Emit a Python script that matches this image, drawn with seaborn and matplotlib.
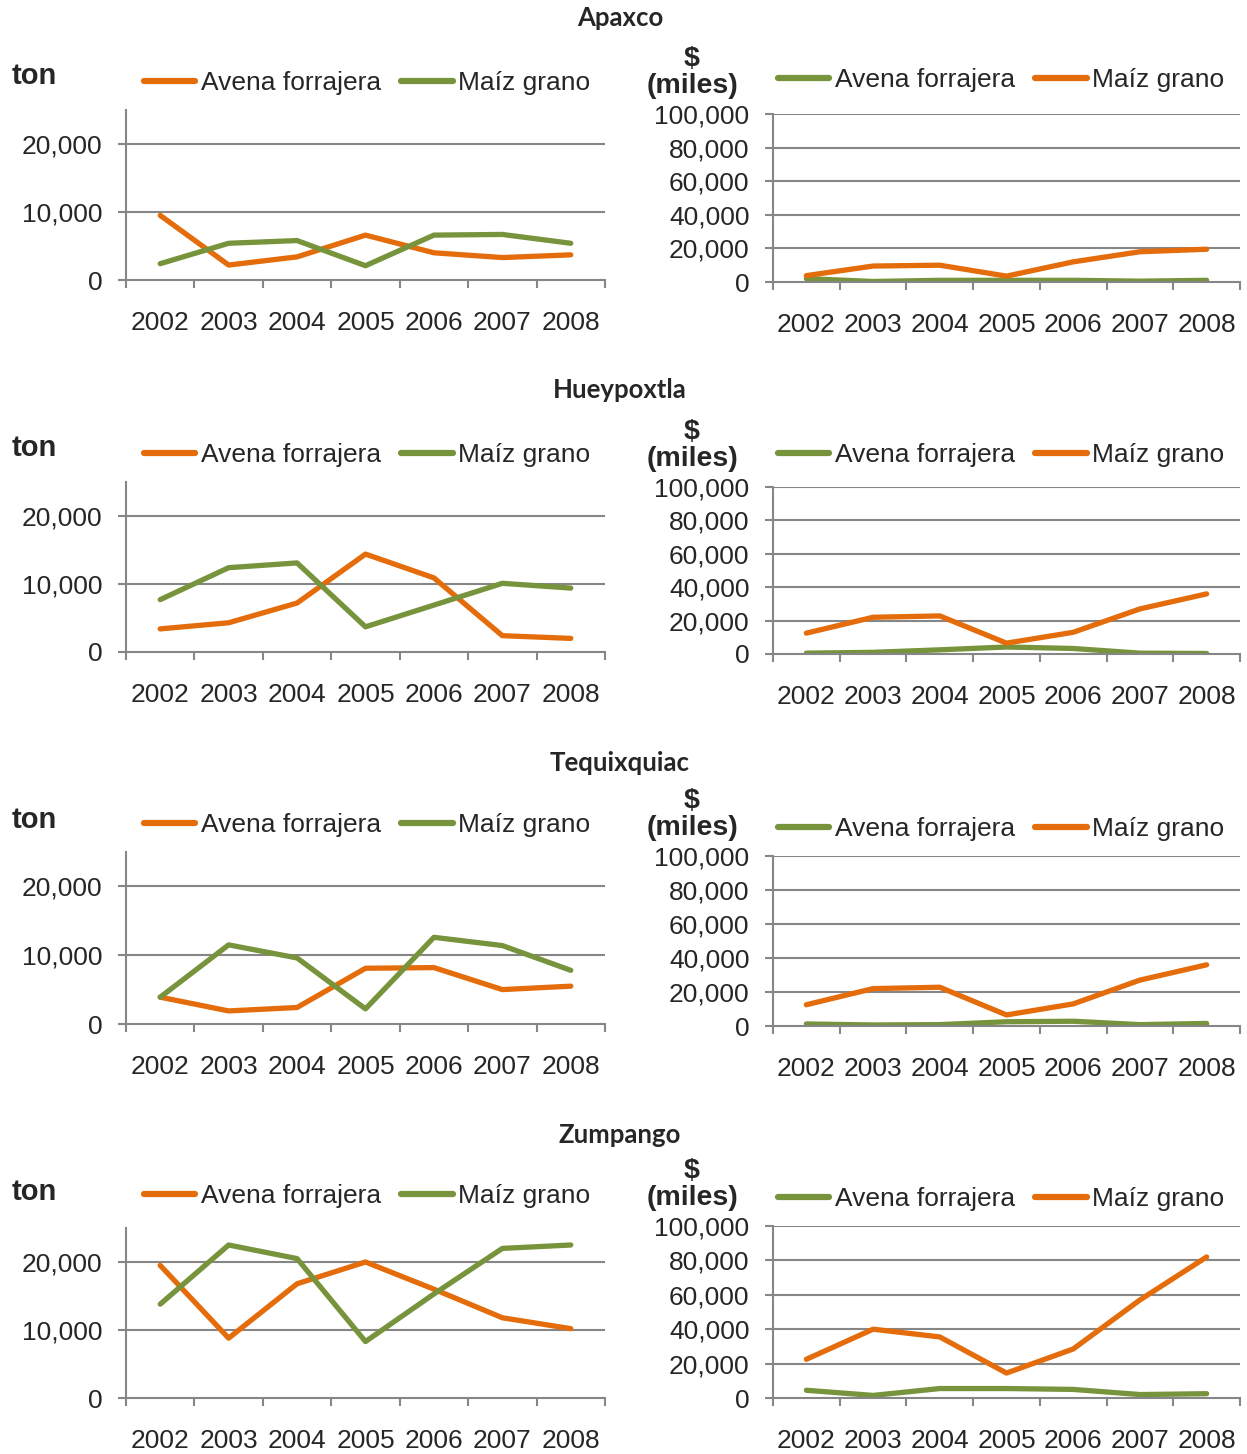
import numpy as np
import pandas as pd
import matplotlib
matplotlib.use("Agg")
import matplotlib.pyplot as plt
from matplotlib.lines import Line2D
from matplotlib.ticker import FuncFormatter, FixedLocator
import seaborn as sns

# ---------------------------------------------------------------- data
years = ["2002", "2003", "2004", "2005", "2006", "2007", "2008"]
municipios = ["Apaxco", "Hueypoxtla", "Tequixquiac", "Zumpango"]
cultivos = ["Avena forrajera", "Maíz grano"]

# Production (ton)
apaxco_ton_avena = [9500, 2200, 3400, 6600, 4000, 3300, 3700]
apaxco_ton_maiz = [2400, 5400, 5800, 2100, 6600, 6700, 5400]
hueypoxtla_ton_avena = [3400, 4300, 7200, 14400, 10900, 2400, 2000]
hueypoxtla_ton_maiz = [7700, 12400, 13100, 3700, 6900, 10100, 9400]
tequixquiac_ton_avena = [3900, 1900, 2400, 8100, 8200, 5000, 5500]
tequixquiac_ton_maiz = [3900, 11500, 9600, 2200, 12600, 11400, 7800]
zumpango_ton_avena = [19500, 8800, 16800, 20000, 16000, 11800, 10200]
zumpango_ton_maiz = [13800, 22500, 20500, 8300, 15300, 22000, 22500]

# Production value ($ miles)
apaxco_val_avena = [2000, 300, 1000, 1000, 1000, 500, 1000]
apaxco_val_maiz = [3800, 9500, 10000, 3500, 12000, 18000, 19500]
hueypoxtla_val_avena = [500, 1000, 2500, 4200, 3300, 500, 300]
hueypoxtla_val_maiz = [12500, 22000, 22800, 6500, 13000, 27000, 36000]
tequixquiac_val_avena = [1200, 600, 800, 2500, 2800, 800, 1500]
tequixquiac_val_maiz = [12500, 22000, 22800, 6500, 13000, 27000, 36000]
zumpango_val_avena = [4500, 1500, 5500, 5500, 5000, 2000, 2500]
zumpango_val_maiz = [22500, 40000, 35500, 14500, 28500, 57000, 82000]

ton_series = [
    (apaxco_ton_avena, apaxco_ton_maiz),
    (hueypoxtla_ton_avena, hueypoxtla_ton_maiz),
    (tequixquiac_ton_avena, tequixquiac_ton_maiz),
    (zumpango_ton_avena, zumpango_ton_maiz),
]
val_series = [
    (apaxco_val_avena, apaxco_val_maiz),
    (hueypoxtla_val_avena, hueypoxtla_val_maiz),
    (tequixquiac_val_avena, tequixquiac_val_maiz),
    (zumpango_val_avena, zumpango_val_maiz),
]

# ---------------------------------------------------------------- style
ORANGE = "#E46C0A"
GREEN = "#77933C"
GRID = "#868686"

sns.set_style("white")
plt.rcParams["font.family"] = ["Liberation Sans", "DejaVu Sans"]

W, H = 1247, 1454
fig = plt.figure(figsize=(W / 100, H / 100), dpi=100)


def box(l, t, r, b):
    return [l / W, 1 - b / H, (r - l) / W, (b - t) / H]


def fx(x):
    return x / W


def fy(y):
    return 1 - y / H


# pixel layout of each row
title_y = [18, 390, 763, 1135]
left_top = [110, 482, 852, 1228]
left_bot = [280, 652, 1024, 1398]
right_top = [114, 487, 856, 1226]
right_bot = [282, 654, 1026, 1398]
ton_y = [76, 448, 820, 1192]
unit_bottom = [99, 472, 841, 1211]
leg_left_y = [83, 455, 825, 1196]
leg_right_y = [80, 455, 829, 1199]

TICK_FS = 19
thousands = FuncFormatter(lambda v, p: f"{int(v):,}")


def frame(avena, maiz):
    rows = []
    for name, vals in zip(cultivos, (avena, maiz)):
        for i, v in enumerate(vals):
            rows.append({"pos": i, "anio": years[i], "cultivo": name, "valor": v})
    return pd.DataFrame(rows)


def style_axes(ax, ymax, yticks):
    ax.set_xlim(-0.5, len(years) - 0.5)
    ax.set_ylim(0, ymax)
    ax.set_facecolor("white")
    for s in ("top", "right"):
        ax.spines[s].set_visible(False)
    for s in ("left", "bottom"):
        ax.spines[s].set_color(GRID)
        ax.spines[s].set_linewidth(1.5)
    ax.set_yticks(yticks)
    ax.yaxis.set_major_formatter(thousands)
    ax.grid(False)
    for yv in yticks:
        if yv > 0:
            ax.axhline(yv, color=GRID, lw=1.5, zorder=0.5)
    # years centred in their category, tick marks between categories
    ax.set_xticks(range(len(years)))
    ax.set_xticklabels(years)
    ax.xaxis.set_minor_locator(FixedLocator(np.arange(-0.5, len(years), 1.0)))
    ax.tick_params(axis="x", which="major", length=0, pad=22.5, labelsize=TICK_FS)
    ax.tick_params(axis="x", which="minor", length=6, width=1.5, color=GRID,
                   direction="out", bottom=True)
    ax.tick_params(axis="y", which="major", length=6, width=1.5, color=GRID,
                   direction="out", left=True, pad=11, labelsize=TICK_FS)
    ax.set_xlabel("")
    ax.set_ylabel("")


def add_legend(ax, colors, x_left, y_center):
    handles = [Line2D([0], [0], color=c, lw=4.5, solid_capstyle="round")
               for c in colors]
    ax.legend(handles, cultivos, ncol=2, loc="center left",
              bbox_to_anchor=(fx(x_left), fy(y_center)),
              bbox_transform=fig.transFigure, frameon=False,
              fontsize=TICK_FS, handlelength=1.95, handletextpad=0.22,
              columnspacing=0.75, borderpad=0, borderaxespad=0)


line_kw = dict(linewidth=3.8, solid_capstyle="round", solid_joinstyle="round")

for r, muni in enumerate(municipios):
    fig.text(fx(620), fy(title_y[r]), muni, ha="center", va="center",
             fontsize=18.5, fontweight="bold", family=["Lato", "DejaVu Sans"])

    # production in tons
    axl = fig.add_axes(box(126, left_top[r], 605, left_bot[r]))
    dfl = frame(*ton_series[r])
    sns.lineplot(data=dfl, x="pos", y="valor", hue="cultivo", hue_order=cultivos,
                 palette={"Avena forrajera": ORANGE, "Maíz grano": GREEN},
                 legend=False, sort=False, ax=axl, **line_kw)
    style_axes(axl, 25000, [0, 10000, 20000])
    add_legend(axl, [ORANGE, GREEN], 144, leg_left_y[r])
    fig.text(fx(12), fy(ton_y[r]), "ton", ha="left", va="center",
             fontsize=21, fontweight="bold")

    # production value
    axr = fig.add_axes(box(773, right_top[r], 1240, right_bot[r]))
    dfr = frame(*val_series[r])
    sns.lineplot(data=dfr, x="pos", y="valor", hue="cultivo", hue_order=cultivos,
                 palette={"Avena forrajera": GREEN, "Maíz grano": ORANGE},
                 legend=False, sort=False, ax=axr, **line_kw)
    style_axes(axr, 100000, [0, 20000, 40000, 60000, 80000, 100000])
    add_legend(axr, [GREEN, ORANGE], 778, leg_right_y[r])
    fig.text(fx(692), fy(unit_bottom[r]), "\\$\n(miles)", ha="center",
             va="bottom", multialignment="center", linespacing=1.05,
             fontsize=20.5, fontweight="bold")

fig.savefig("out.png", dpi=100, facecolor="white")
